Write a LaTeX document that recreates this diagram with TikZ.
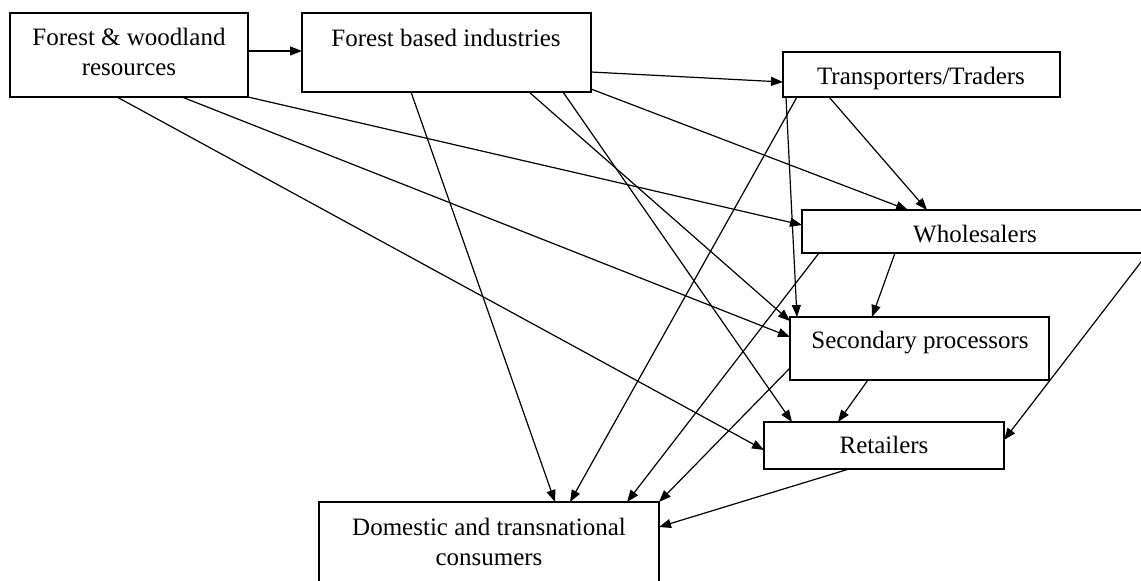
\documentclass[tikz,border=0pt]{standalone}
\usepackage{fontspec}
\setmainfont{Liberation Serif}
\usetikzlibrary{arrows.meta,calc}
\begin{document}
\begin{tikzpicture}[x=1pt,y=-1pt,
  box/.style={draw=black,line width=1.4pt,rectangle,inner sep=0pt,outer sep=0pt,fill=none},
  txt/.style={inner sep=0pt,font=\fontsize{25}{30}\selectfont,align=center},
  conn/.style={line width=1.2pt,-{Triangle[length=12pt,width=9pt]}}]
\useasboundingbox (0,0) rectangle (1141,581);
\clip (0,0) rectangle (1141,581);
\fill[white] (0,0) rectangle (1141,581);
% boxes
\node[box,minimum width=238pt,minimum height=84pt] (b1) at (129,55) {};
\node[box,minimum width=289pt,minimum height=79pt] (b2) at (446.5,52.5) {};
\node[box,minimum width=277pt,minimum height=45pt] (b3) at (921.5,74.5) {};
\node[box,minimum width=346pt,minimum height=43pt] (b4) at (975,231.5) {};
\node[box,minimum width=259pt,minimum height=63pt] (b5) at (919.5,348.5) {};
\node[box,minimum width=240pt,minimum height=47pt] (b6) at (884,445.5) {};
\node[box,minimum width=340pt,minimum height=93pt] (b7) at (489,548.5) {};
% texts
\node[txt] (t1) at (129,51.5) {Forest \& woodland\\resources};
\node[txt,anchor=base] (t2) at (446,46) {Forest based industries};
\node[txt,anchor=base] (t3) at (921,84) {Transporters/Traders};
\node[txt,anchor=base] (t4) at (975,242) {Wholesalers};
\node[txt,anchor=base] (t5) at (920,348) {Secondary processors};
\node[txt,anchor=base] (t6) at (884,453) {Retailers};
\node[txt] (t7) at (489,541.5) {Domestic and transnational\\consumers};
% connectors
\draw[conn] ($(b1.north east)+(0,38)$) -- ($(b2.north west)+(0,38)$);
\draw[conn] ($(b1.south west)+(107,0)$) -- ($(b6.north west)+(0,28)$);
\draw[conn] ($(b1.south west)+(172,0)$) -- ($(b5.north west)+(0,20)$);
\draw[conn] (b1.south east) -- ($(b4.north west)+(0,15)$);
\draw[conn] ($(b2.north east)+(0,59)$) -- ($(b3.north west)+(0,30)$);
\draw[conn] ($(b2.north east)+(0,76)$) -- ($(b4.north west)+(106,0)$);
\draw[conn] ($(b2.south west)+(109,0)$) -- ($(b7.north west)+(236,0)$);
\draw[conn] ($(b2.south west)+(227,0)$) -- ($(b5.north west)+(0,4)$);
\draw[conn] ($(b2.south west)+(261,0)$) -- ($(b6.north west)+(28,0)$);
\draw[conn] ($(b3.south west)+(3,0)$) -- ($(b5.north west)+(7,0)$);
\draw[conn] ($(b3.south west)+(14,0)$) -- ($(b7.north west)+(251,0)$);
\draw[conn] ($(b3.south west)+(46,0)$) -- ($(b4.north west)+(125,0)$);
\draw[conn] ($(b4.south west)+(17,0)$) -- ($(b7.north west)+(308,0)$);
\draw[conn] ($(b4.south west)+(93,0)$) -- ($(b5.north west)+(82,0)$);
\draw[conn] (b4.south east) -- ($(b6.north east)+(0,18)$);
\draw[conn] ($(b5.south west)+(0,-12)$) -- (b7.north east);
\draw[conn] ($(b5.south west)+(78,0)$) -- ($(b6.north west)+(74,0)$);
\draw[conn] ($(b6.south west)+(85,0)$) -- ($(b7.north east)+(0,25)$);
\end{tikzpicture}
\end{document}
